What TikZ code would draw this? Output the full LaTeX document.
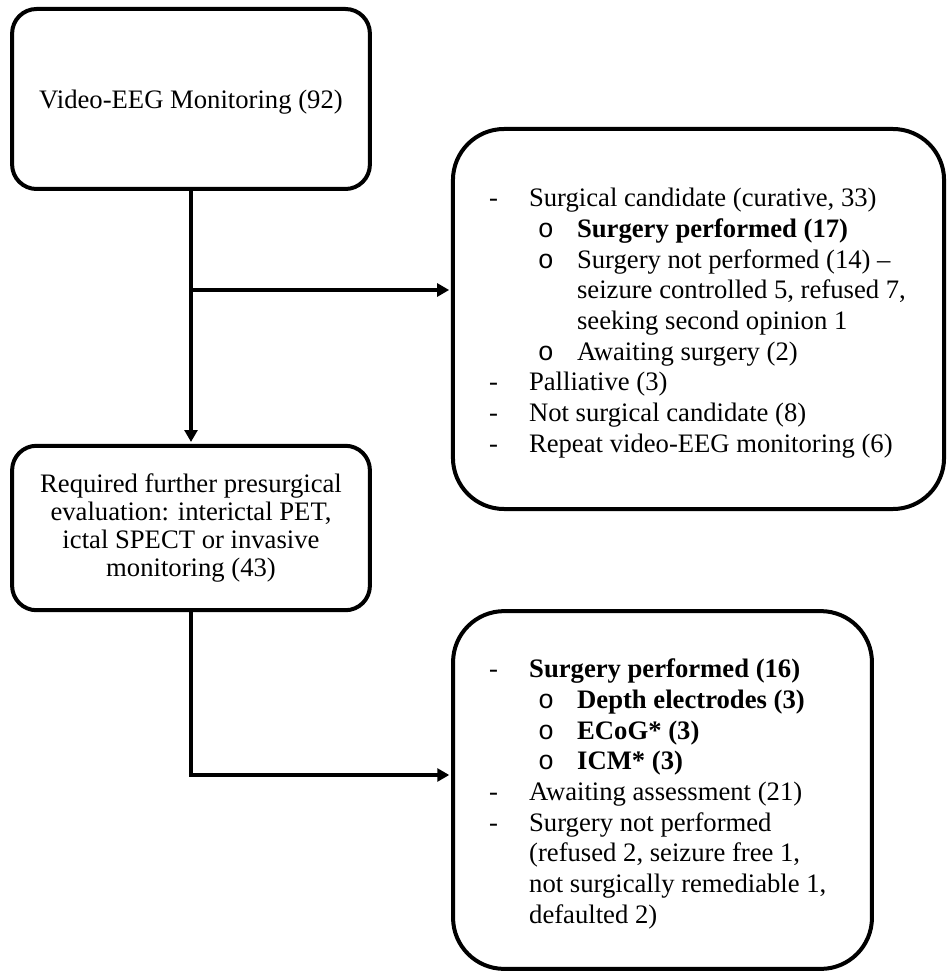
\documentclass[tikz,border=0pt]{standalone}
\usepackage{fontspec}
\setmainfont{Liberation Serif}
\setmonofont{Liberation Mono}
\usetikzlibrary{arrows.meta}

\newcommand{\dashitem}[1]{\makebox[18pt][l]{-}#1}
\newcommand{\itemcont}[1]{\hspace*{18pt}#1}
\newcommand{\subbullet}[1]{\hspace*{22pt}\makebox[17.6pt][l]{\texttt{o}}#1}
\newcommand{\subcont}[1]{\hspace*{39.6pt}#1}

\begin{document}
\begin{tikzpicture}[x=0.45pt, y=-0.45pt, line width=1.8pt,
    >={Triangle[length=5.4pt,width=5.8pt]},
    every node/.style={font=\fontsize{12}{13.8}\selectfont}]
  \useasboundingbox (0,0) rectangle (946,972);

  \node[draw, rounded corners=11pt, minimum width=161pt, minimum height=81pt] (vem) at (191, 99) {\raisebox{-1.2pt}[\height][\depth]{Video-EEG Monitoring (92)}};
  \node[draw, rounded corners=11pt, minimum width=161pt, minimum height=74pt, align=center,
        font=\fontsize{12}{12.5}\selectfont] (req) at (191, 528)
    {Required further presurgical\\evaluation: interictal PET,\\ictal SPECT or invasive\\monitoring (43)};
  \node[draw, rounded corners=23pt, minimum width=221pt, minimum height=171pt, inner sep=0pt] (cand) at (698.5, 319)
    {\makebox[188.5pt][l]{\raisebox{-2pt}[\height][\depth]{\begin{tabular}{@{}l@{}}
      \dashitem{Surgical candidate (curative, 33)}\\
      \subbullet{\textbf{Surgery performed (17)}}\\
      \subbullet{Surgery not performed (14) --}\\
      \subcont{seizure controlled 5, refused 7,}\\
      \subcont{seeking second opinion 1}\\
      \subbullet{Awaiting surgery (2)}\\
      \dashitem{Palliative (3)}\\
      \dashitem{Not surgical candidate (8)}\\
      \dashitem{Repeat video-EEG monitoring (6)}
    \end{tabular}}}};
  \node[draw, rounded corners=23pt, minimum width=188.5pt, minimum height=161pt, inner sep=0pt] (surg) at (662.5, 790)
    {\makebox[156pt][l]{\raisebox{-2pt}[\height][\depth]{\begin{tabular}{@{}l@{}}
      \dashitem{\textbf{Surgery performed (16)}}\\
      \subbullet{\textbf{Depth electrodes (3)}}\\
      \subbullet{\textbf{ECoG* (3)}}\\
      \subbullet{\textbf{ICM* (3)}}\\
      \dashitem{Awaiting assessment (21)}\\
      \dashitem{Surgery not performed}\\
      \itemcont{(refused 2, seizure free 1,}\\
      \itemcont{not surgically remediable 1,}\\
      \itemcont{defaulted 2)}
    \end{tabular}}}};

  \coordinate (split) at (191, 290);
  \coordinate (turn) at (191, 775);

  % main line and branches
  \draw[->, shorten >=0.8pt] (vem) -- (req);
  \draw[->, shorten >=0.8pt] (split) -- (split -| cand.west);
  \draw[->, shorten >=0.8pt] (req) -- (turn) -- (turn -| surg.west);
\end{tikzpicture}
\end{document}
